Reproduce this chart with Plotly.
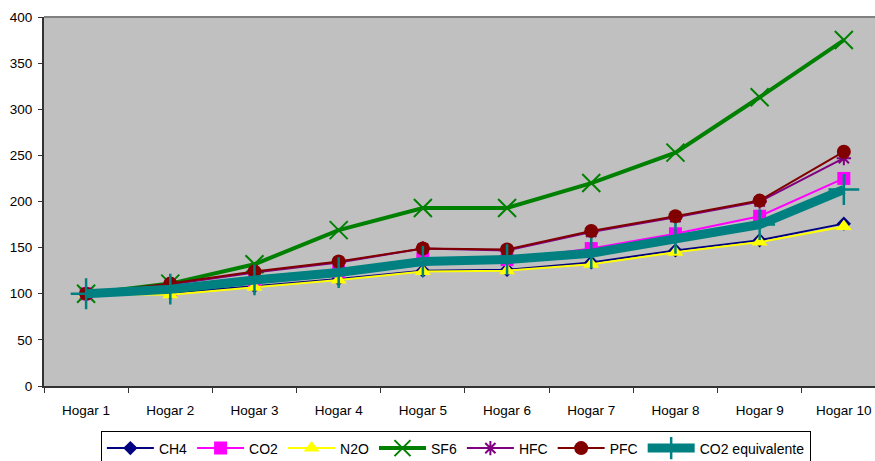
import plotly.graph_objects as go

# Categories and index series (Hogar 1 = 100)
hogares = ["Hogar 1", "Hogar 2", "Hogar 3", "Hogar 4", "Hogar 5",
           "Hogar 6", "Hogar 7", "Hogar 8", "Hogar 9", "Hogar 10"]
ch4 = [100, 101, 108, 116, 125, 126, 134, 147, 158, 176]
co2 = [100, 103, 113, 124, 138, 137, 149, 165, 184, 225]
n2o = [100, 99, 107, 115, 124, 125, 132, 145, 156, 173]
sf6 = [100, 111, 132, 169, 193, 193, 220, 253, 313, 375]
hfc = [100, 110, 123, 134, 149, 147, 167, 183, 200, 247]
pfc = [100, 111, 124, 135, 149, 148, 168, 184, 201, 254]
co2_eq = [100, 105, 115, 123, 135, 137, 144, 160, 175, 213]

series = [
    ("CH4", ch4, "#000080", 2, "diamond", 11, None),
    ("CO2", co2, "#FF00FF", 2, "square", 13, None),
    ("N2O", n2o, "#FFFF00", 2, "triangle-up", 14, None),
    ("SF6", sf6, "#008000", 4, "x-thin-open", 18, 2),
    ("HFC", hfc, "#800080", 2, "asterisk-open", 12, 2),
    ("PFC", pfc, "#800000", 2, "circle", 14, None),
    ("CO2 equivalente", co2_eq, "#008080", 9, "cross-thin-open", 22, 2.5),
]

fig = go.Figure()
for name, vals, color, lw, sym, msize, mlw in series:
    marker = dict(symbol=sym, size=msize, color=color)
    if mlw:
        marker["line"] = dict(color=color, width=mlw)
    else:
        marker["line"] = dict(width=0)
    fig.add_trace(go.Scatter(
        x=hogares, y=vals, name=name, mode="lines+markers",
        line=dict(color=color, width=lw), marker=marker,
        cliponaxis=False,
    ))

font = dict(family="Arial, Liberation Sans, sans-serif", size=13.5, color="#000")
legend_font = dict(family="Arial, Liberation Sans, sans-serif", size=14, color="#000")

fig.update_layout(
    width=875, height=461,
    margin=dict(l=44, r=0, t=17, b=75, autoexpand=False),
    paper_bgcolor="white",
    plot_bgcolor="#C0C0C0",
    font=font,
    showlegend=True,
    legend=dict(
        orientation="h", xref="container", yref="container",
        x=0.521, xanchor="center", y=0.064, yanchor="top",
        bordercolor="#000", borderwidth=1, bgcolor="white",
        font=legend_font, itemwidth=47, tracegroupgap=0,
    ),
    xaxis=dict(
        type="category", range=[-0.5, 9.37],
        showgrid=False, zeroline=False,
        showline=True, linecolor="#333", linewidth=2,
        ticks="outside", ticklen=5, tickcolor="#333", tickwidth=1,
        tickson="boundaries", tickfont=font, ticklabelstandoff=11,
    ),
    yaxis=dict(
        range=[0, 400], dtick=50, showgrid=False, zeroline=False,
        showline=True, linecolor="#333", linewidth=2,
        ticks="outside", ticklen=4, tickcolor="#333", tickwidth=1,
        tickfont=font, ticklabelstandoff=3,
    ),
    shapes=[dict(type="line", xref="paper", yref="paper", x0=0, x1=1,
                 y0=1, y1=1, line=dict(color="#808080", width=2))],
)

fig.write_html("out.html")
